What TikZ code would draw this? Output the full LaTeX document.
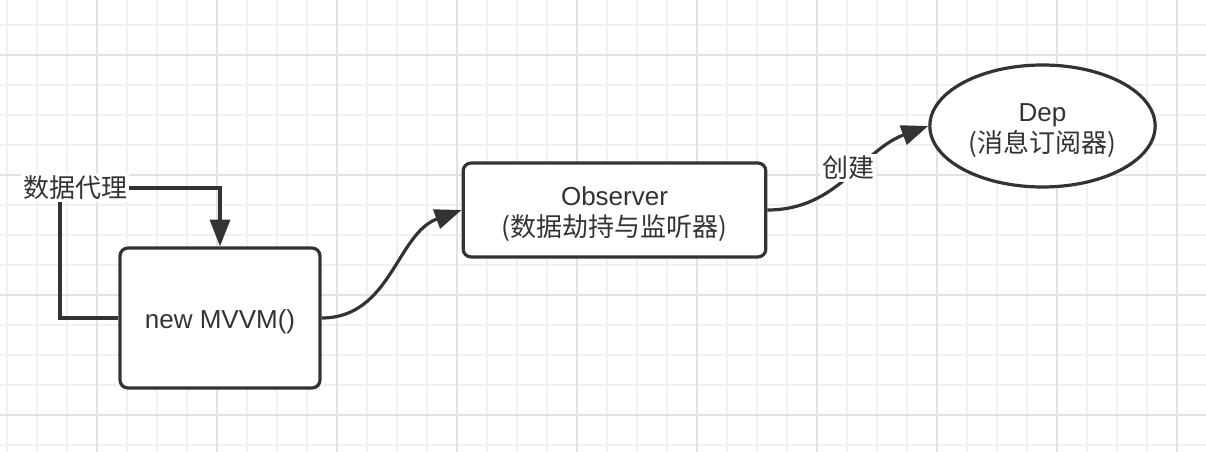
\documentclass[tikz,border=0pt]{standalone}
\usepackage{fontspec}
\setmainfont{Liberation Sans}
\newfontfamily\cjk{Noto Sans CJK SC}
\usetikzlibrary{arrows.meta,shapes.geometric}
\definecolor{ink}{HTML}{333333}
\definecolor{gridminor}{HTML}{F0F0F0}
\definecolor{gridmajor}{HTML}{E2E2E2}
\newcommand{\topstrut}{\rule{0pt}{20pt}}
\tikzset{
  x=0.75pt, y=-0.75pt,
  txt/.style={text=ink, font=\fontsize{19.5}{23.5}\selectfont, align=center},
  box/.style={txt, draw=ink, line width=2.4pt, rounded corners=6pt, fill=white, inner sep=0pt},
  oval/.style={txt, ellipse, draw=ink, line width=2.4pt, fill=white, inner sep=0pt},
  conn/.style={draw=ink, line width=2.4pt, -{Triangle[length=20pt,width=15pt]}},
  lbl/.style={txt, fill=white, inner sep=1.5pt},
}
\begin{document}
\begin{tikzpicture}
\useasboundingbox (0,0) rectangle (1206,452);
\fill[white] (0,0) rectangle (1206,452);
% minor grid
\foreach \gx in {7,37,...,1207} \draw[gridminor, line width=1.2pt] (\gx,0) -- (\gx,452);
\foreach \gy in {25,55,...,452} \draw[gridminor, line width=1.2pt] (0,\gy) -- (1206,\gy);
% major grid
\foreach \gx in {97,217,...,1206} \draw[gridmajor, line width=1.2pt] (\gx,0) -- (\gx,452);
\foreach \gy in {55,175,...,452} \draw[gridmajor, line width=1.2pt] (0,\gy) -- (1206,\gy);

% nodes
\node[box, minimum width=150pt, minimum height=105pt] (mvvm) at (220,318) {\topstrut new MVVM()};
\node[box, minimum width=227pt, minimum height=70.5pt] (obs) at (614.5,210) {\topstrut Observer\\{\cjk (数据劫持与监听器)}};
\node[oval, minimum width=169pt, minimum height=91.5pt] (dep) at (1042.5,126) {\topstrut Dep\\{\cjk (消息订阅器)}};

% self loop with label
\coordinate (corner) at (60,188);
\draw[conn] (mvvm.west) -| (corner) -| (mvvm.north);
\node[lbl] (proxy) at (75,188) {\cjk 数据代理};

% curves
\draw[conn] (mvvm.east) to[out=0,in=200] (obs.west);
\draw[conn] (obs.east) to[out=0,in=200] (dep.west);
\node[lbl] (create) at (848,168) {\cjk 创建};
\end{tikzpicture}
\end{document}
